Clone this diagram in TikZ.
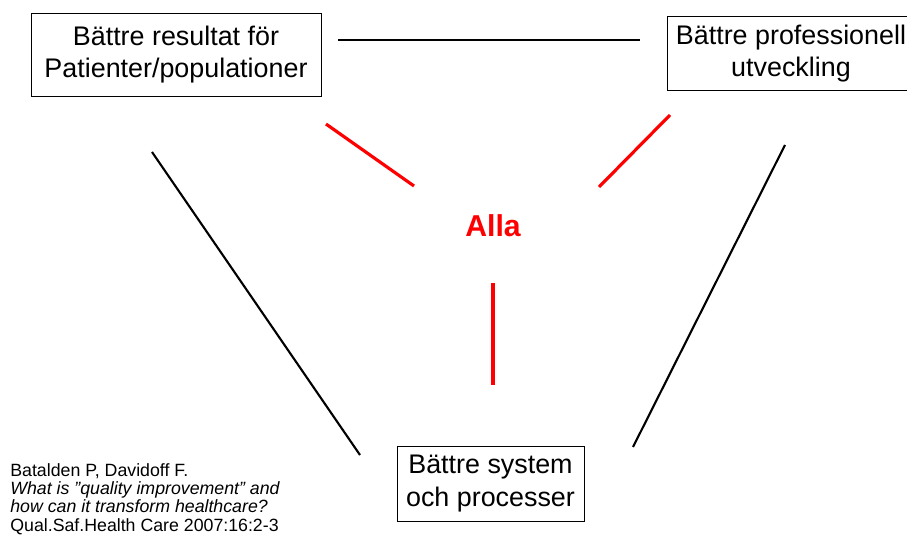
\documentclass[tikz,border=0pt]{standalone}
\usepackage{fontspec}
\setmainfont{Liberation Sans}
\usepackage{xcolor}
\usepackage{tikz}
\usetikzlibrary{positioning, calc}

\tikzset{
	goalbox/.style={draw, line width=0.45pt, align=center, inner sep=0pt,
		font=\fontsize{15.3}{18.7}\selectfont},
	blackline/.style={line width=1.2pt, black},
	redline/.style={line width=1.8pt, red}
}

\begin{document}
\begin{tikzpicture}[x=0.02cm, y=-0.02cm]
			\useasboundingbox (0,0) rectangle (907,554);
			
			\node[goalbox, minimum width=5.8cm, minimum height=1.66cm] (resultat) at (176,54.5) {Bättre resultat för\\Patienter/populationer};
			\node[goalbox, minimum width=4.96cm, minimum height=1.48cm] (utveckling) at (791,53.5) {Bättre professionell\\utveckling};
			\node[goalbox, minimum width=3.74cm, minimum height=1.5cm] (system) at (490.5,483.5) {Bättre system\\och processer};
			
			\node[text=red, font=\fontsize{17.2}{20}\selectfont\bfseries] (alla) at (493,226) {Alla};
			
			\node[anchor=north west, align=left, inner sep=0pt, font=\fontsize{10.1}{10.4}\selectfont] (ref) at (10,463)
			{Batalden P, Davidoff F.\\\textit{What is ”quality improvement” and}\\\textit{how can it transform healthcare?}\\Qual.Saf.Health Care 2007:16:2-3};
			
			% black sides
			\coordinate (t1) at (338,40);
			\coordinate (t2) at (640,40);
			\coordinate (l1) at (152,152);
			\coordinate (l2) at (360,455);
			\coordinate (r1) at (785,145);
			\coordinate (r2) at (633,447);
			\draw[blackline] (t1) -- (t2);
			\draw[blackline] (l1) -- (l2);
			\draw[blackline] (r1) -- (r2);
			
			% red spokes
			\coordinate (a1) at (326,124);
			\coordinate (a2) at (414,186);
			\coordinate (b1) at (670,115);
			\coordinate (b2) at (599,187);
			\coordinate (c1) at (493,283);
			\coordinate (c2) at (493,385);
			\draw[redline] (a1) -- (a2);
			\draw[redline] (b1) -- (b2);
			\draw[redline] (c1) -- (c2);
\end{tikzpicture}
\end{document}
